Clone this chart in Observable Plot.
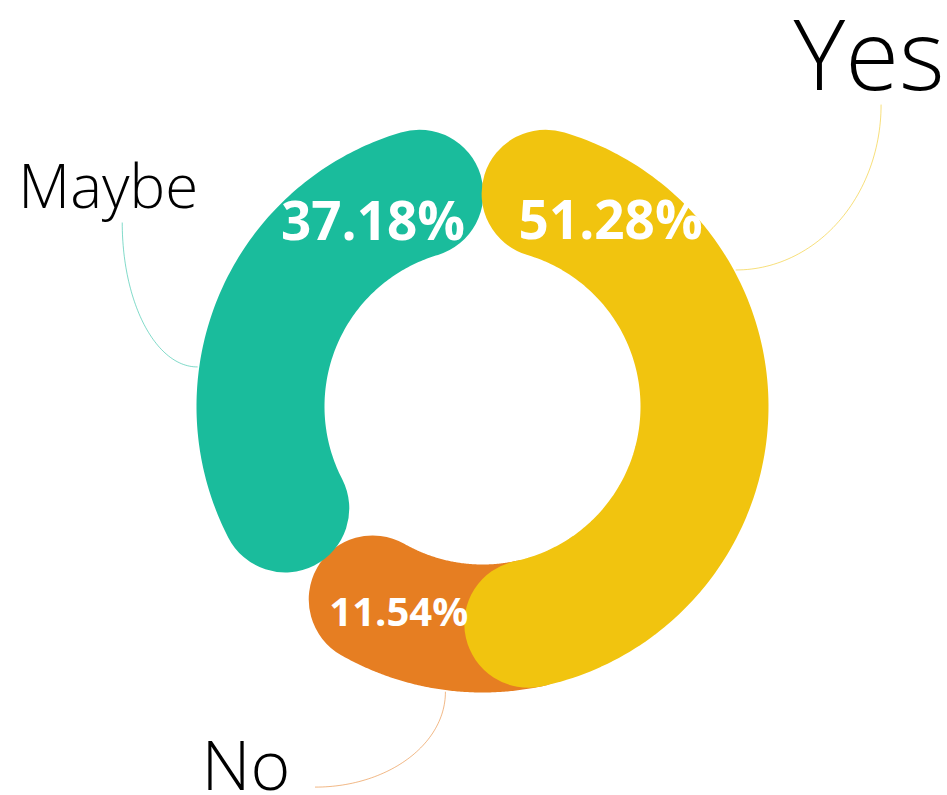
<!DOCTYPE html>
<html><head><meta charset="utf-8">
<script src="https://cdn.jsdelivr.net/npm/d3@7"></script>
<script src="https://cdn.jsdelivr.net/npm/@observablehq/plot@0.6"></script>
<style>body{margin:0;background:#fff}</style>
</head><body><div id="chart"></div>
<script>
// ---- data ----
const categories = ["Yes", "No", "Maybe"];
const values = [51.28, 11.54, 37.18];
const valueLabels = ["51.28%", "11.54%", "37.18%"];
const colors = ["#F1C40F", "#E67E22", "#1ABC9C"];

// ---- layout (not data) ----
const W = 947, H = 795;
const cx = 482, cy = 406, rMid = 222, thick = 128, rOuter = 288;
const drawOrder = ["No", "Maybe", "Yes"];
// slices whose start runs underneath the previous slice's rounded end
const tuckedStart = {No: true};
const pctLayout = {Yes: {frac: 0.188, r: 225, size: 53}, No: {frac: 0.42, r: 223, size: 40}, Maybe: {frac: 0.77, r: 214, size: 53}};
// leader: angle on outer edge (deg), end offset, label offset
const leaderLayout = {
  Yes:   {ang: 61.7, ex: 145, ey: -165, kind: "hUp",   tx: -12, ty: -15, anchor: "middle", size: 98},
  Maybe: {ang: 277.9, ex: -75, ey: -144, kind: "hUp",  tx: -14, ty: -15, anchor: "middle", size: 60},
  No:    {ang: 187.4, ex: -130, ey: 95, kind: "vSide", tx: -25, ty: 3,  anchor: "end", size: 68}
};

const total = d3.sum(values);
const rad = d => d * Math.PI / 180;
const pos = (theta, r) => [cx + r * Math.sin(theta), cy - r * Math.cos(theta)];

// slices
let acc = 0;
const slices = categories.map((c, i) => {
  const a0 = acc / total * 2 * Math.PI;
  acc += values[i];
  const a1 = acc / total * 2 * Math.PI;
  return {category: c, value: values[i], label: valueLabels[i], a0, a1};
});

const delta = (thick / 2) / rMid;
const arcPts = [];
for (const s of slices) {
  const n = 120;
  const b0 = tuckedStart[s.category] ? s.a0 - delta : s.a0 + delta;
  const b1 = s.a1 - delta;
  for (let k = 0; k <= n; k++) {
    const t = b0 + (b1 - b0) * k / n;
    const [x, y] = pos(t, rMid);
    arcPts.push({category: s.category, x, y});
  }
}

const pctPts = slices.map(s => {
  const L = pctLayout[s.category];
  const t = s.a0 + (s.a1 - s.a0) * L.frac;
  const [x, y] = pos(t, L.r);
  return {category: s.category, label: s.label, x, y, size: L.size};
});

const leaderPts = [], namePts = [];
for (const s of slices) {
  const L = leaderLayout[s.category];
  const [x0, y0] = pos(rad(L.ang), rOuter);
  const x1 = x0 + L.ex, y1 = y0 + L.ey;
  const n = 60;
  for (let k = 0; k <= n; k++) {
    const t = (Math.PI / 2) * k / n;
    let x, y;
    if (L.kind === "hUp") { // leaves horizontally, arrives vertically
      x = x0 + L.ex * Math.sin(t);
      y = y1 - L.ey * Math.cos(t);
    } else { // leaves vertically, arrives horizontally
      x = x1 - L.ex * Math.cos(t);
      y = y0 + L.ey * Math.sin(t);
    }
    leaderPts.push({category: s.category, x, y});
  }
  namePts.push({category: s.category, x: x1 + L.tx, y: y1 + L.ty, anchor: L.anchor, size: L.size});
}

const colorScale = {domain: categories, range: colors};
const marks = [];
for (const c of drawOrder) {
  marks.push(Plot.line(arcPts.filter(d => d.category === c), {
    x: "x", y: "y", stroke: "category", strokeWidth: thick,
    strokeLinecap: "round", strokeLinejoin: "round"
  }));
}
for (const c of categories) {
  marks.push(Plot.line(leaderPts.filter(d => d.category === c), {
    x: "x", y: "y", stroke: "category", strokeWidth: 1, strokeOpacity: 0.55
  }));
}
for (const p of pctPts) {
  marks.push(Plot.text([p], {
    x: "x", y: "y", text: "label", fill: "white", fontWeight: 700,
    fontSize: p.size, textAnchor: "middle", fontFamily: "Open Sans"
  }));
}
for (const p of namePts) {
  marks.push(Plot.text([p], {
    x: "x", y: "y", text: "category", fill: "black", fontWeight: 300,
    fontSize: p.size, textAnchor: p.anchor, lineAnchor: "bottom", fontFamily: "Open Sans"
  }));
}

const chart = Plot.plot({
  width: W, height: H, margin: 0,
  x: {domain: [0, W], range: [0, W], axis: null},
  y: {domain: [0, H], range: [0, H], axis: null},
  color: colorScale,
  style: {background: "white", fontFamily: "Open Sans", overflow: "visible"},
  marks
});
document.getElementById("chart").append(chart);
</script>
</body></html>
